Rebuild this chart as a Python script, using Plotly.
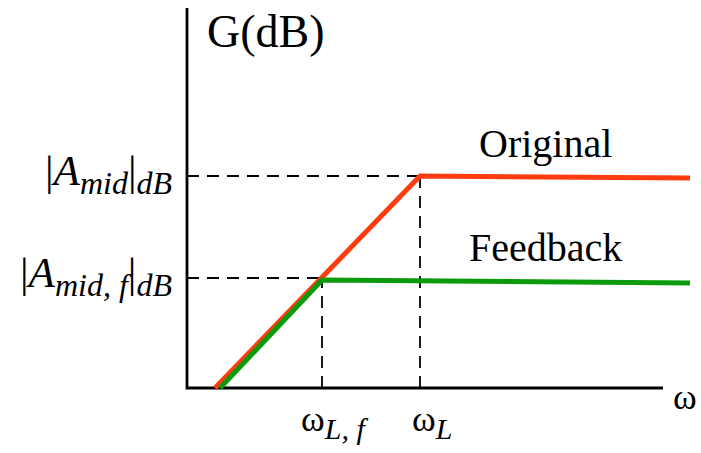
import plotly.graph_objects as go

# Asymptotic Bode magnitude plot (axes units: origin at the axis corner)
omega_orig = [28, 233, 503]
gain_orig = [0, 212, 210]
omega_fb = [33, 135, 503]
gain_fb = [0, 108, 105]

omega_L = 233
omega_Lf = 135
A_mid = 212
A_mid_f = 110

SERIF = "Liberation Serif"

fig = go.Figure()

# Reference lines (dashed guides)
for x0, y0, x1, y1 in [
    (0, A_mid, omega_L, A_mid),
    (omega_L, 0, omega_L, A_mid),
    (0, A_mid_f, omega_Lf, A_mid_f),
    (omega_Lf, 0, omega_Lf, A_mid_f),
]:
    fig.add_trace(go.Scatter(x=[x0, x1], y=[y0, y1], mode="lines",
                             line=dict(color="black", width=1.8, dash="12px,8px"),
                             hoverinfo="skip", showlegend=False))

# Axes
fig.add_trace(go.Scatter(x=[0, 0, 476], y=[380, 0, 0], mode="lines",
                         line=dict(color="black", width=2.8),
                         hoverinfo="skip", showlegend=False))

# Response curves
fig.add_trace(go.Scatter(x=omega_orig, y=gain_orig, mode="lines",
                         line=dict(color="#ff3c0f", width=5),
                         name="Original", showlegend=False))
fig.add_trace(go.Scatter(x=omega_fb, y=gain_fb, mode="lines",
                         line=dict(color="#0b9a0b", width=5),
                         name="Feedback", showlegend=False))

def label(text, x, y, size, xanchor="center", yanchor="middle"):
    fig.add_annotation(x=x, y=y, xref="x", yref="y", text=text, showarrow=False,
                       xanchor=xanchor, yanchor=yanchor,
                       font=dict(family=SERIF, size=size, color="black"))

def sub(s, px):
    return f"<sub><i><span style='font-size:{px}px'>{s}</span></i></sub>"

label("G(dB)", 18, 357, 46, xanchor="left")
label("Original", 358, 245, 40)
label("Feedback", 358, 141, 40)
label("ω", 498, -9, 36)
label("ω" + sub("L, f", 30), omega_Lf + 12, -34, 36)
label("ω" + sub("L", 30), omega_L + 12, -34, 36)
label("|<i>A</i>" + sub("mid", 32) + "|" + sub("dB", 32), -13, A_mid + 2, 43, xanchor="right")
label("|<i>A</i>" + sub("mid, f", 32) + "|" + sub("dB", 32), -13, A_mid_f + 2, 43, xanchor="right")

fig.update_layout(
    width=701, height=453,
    margin=dict(l=0, r=0, t=0, b=0),
    paper_bgcolor="white", plot_bgcolor="white",
    font=dict(family=SERIF, color="black"),
    xaxis=dict(range=[-187, 514], visible=False, fixedrange=True),
    yaxis=dict(range=[-65, 388], visible=False, fixedrange=True),
)

fig.write_html("out.html")
